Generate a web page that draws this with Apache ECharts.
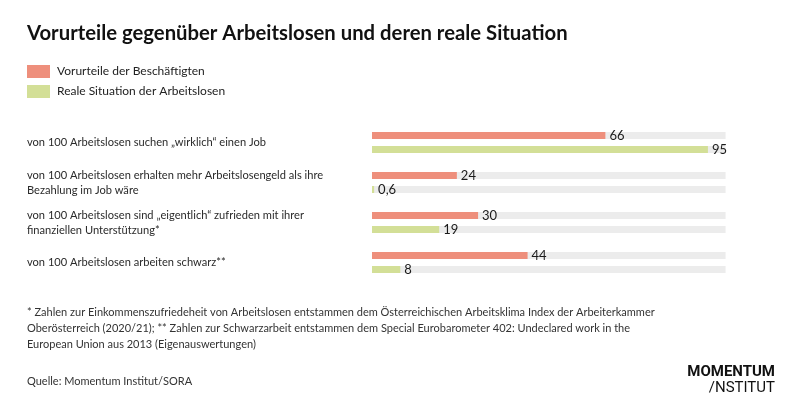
<!DOCTYPE html>
<html>
<head>
<meta charset="utf-8">
<script src="https://cdn.jsdelivr.net/npm/echarts@6/dist/echarts.min.js"></script>
<style>
html,body{margin:0;padding:0;background:#fff;}
#chart{width:800px;height:417px;}
</style>
</head>
<body>
<div id="chart"></div>
<script>
const categories = [
  'von 100 Arbeitslosen suchen „wirklich“ einen Job',
  'von 100 Arbeitslosen erhalten mehr Arbeitslosengeld als ihre\nBezahlung im Job wäre',
  'von 100 Arbeitslosen sind „eigentlich“ zufrieden mit ihrer\nfinanziellen Unterstützung*',
  'von 100 Arbeitslosen arbeiten schwarz**'
];
const seriesNames = ['Vorurteile der Beschäftigten', 'Reale Situation der Arbeitslosen'];
const vorurteile = [66, 24, 30, 44];
const realeSituation = [95, 0.6, 19, 8];
const titleText = 'Vorurteile gegenüber Arbeitslosen und deren reale Situation';
const footnoteText = '* Zahlen zur Einkommenszufriedeheit von Arbeitslosen entstammen dem Österreichischen Arbeitsklima Index der Arbeiterkammer\nOberösterreich (2020/21); ** Zahlen zur Schwarzarbeit entstammen dem Special Eurobarometer 402: Undeclared work in the\nEuropean Union aus 2013 (Eigenauswertungen)';
const sourceText = 'Quelle: Momentum Institut/SORA';

const FONT = 'Lato';
const chart = echarts.init(document.getElementById('chart'), null, {renderer: 'canvas'});
const labelFmt = p => String(p.value).replace('.', ',');
const barSeries = (name, data, color) => ({
  name: name,
  type: 'bar',
  data: data,
  barWidth: 7,
  barGap: '100%',
  itemStyle: {color: color},
  showBackground: true,
  backgroundStyle: {color: '#ececec'},
  label: {show: true, position: 'right', distance: 4, color: '#1a1a1a', fontSize: 13, fontFamily: FONT, formatter: labelFmt},
  silent: true
});
chart.setOption({
  animation: false,
  backgroundColor: '#ffffff',
  title: {
    text: titleText, left: 27, top: 23, padding: 0,
    textStyle: {fontFamily: FONT, fontWeight: 'bold', fontSize: 20.3, color: '#111'}
  },
  legend: {
    orient: 'vertical', left: 27, top: 65, padding: 0,
    itemWidth: 23, itemHeight: 13, itemGap: 7, icon: 'rect',
    selectedMode: false,
    textStyle: {fontFamily: FONT, fontSize: 12, color: '#222', padding: [0, 0, 0, 2]},
    data: seriesNames
  },
  grid: {left: 372, right: 74.4, top: 122.5, bottom: 134.5, containLabel: false},
  xAxis: {type: 'value', min: 0, max: 100, show: false},
  yAxis: {
    type: 'category', data: categories, inverse: true,
    axisLine: {show: false}, axisTick: {show: false}, splitLine: {show: false},
    axisLabel: {
      align: 'left', margin: 345, fontFamily: FONT, fontSize: 11.1, color: '#2a2a2a',
      lineHeight: 15, verticalAlign: 'middle', padding: [0, 0, 8, 0]
    }
  },
  series: [
    barSeries(seriesNames[0], vorurteile, '#ee8f7c'),
    barSeries(seriesNames[1], realeSituation, '#d3df97')
  ],
  graphic: [
    {type: 'text', left: 27, top: 304, style: {text: footnoteText, fontFamily: FONT, fontSize: 11, lineHeight: 16, fill: '#333'}},
    {type: 'text', left: 27, top: 376, style: {text: sourceText, fontFamily: FONT, fontSize: 11, fill: '#333'}},
    {type: 'text', right: 25, top: 365, style: {text: 'MOMENTUM', fontFamily: 'Roboto', fontWeight: 'bold', fontSize: 15, fill: '#111', align: 'right'}},
    {type: 'text', right: 25, top: 381, style: {text: '/NSTITUT', fontFamily: 'Roboto', fontWeight: 'normal', fontSize: 15, fill: '#111', align: 'right'}}
  ]
});
</script>
</body>
</html>
